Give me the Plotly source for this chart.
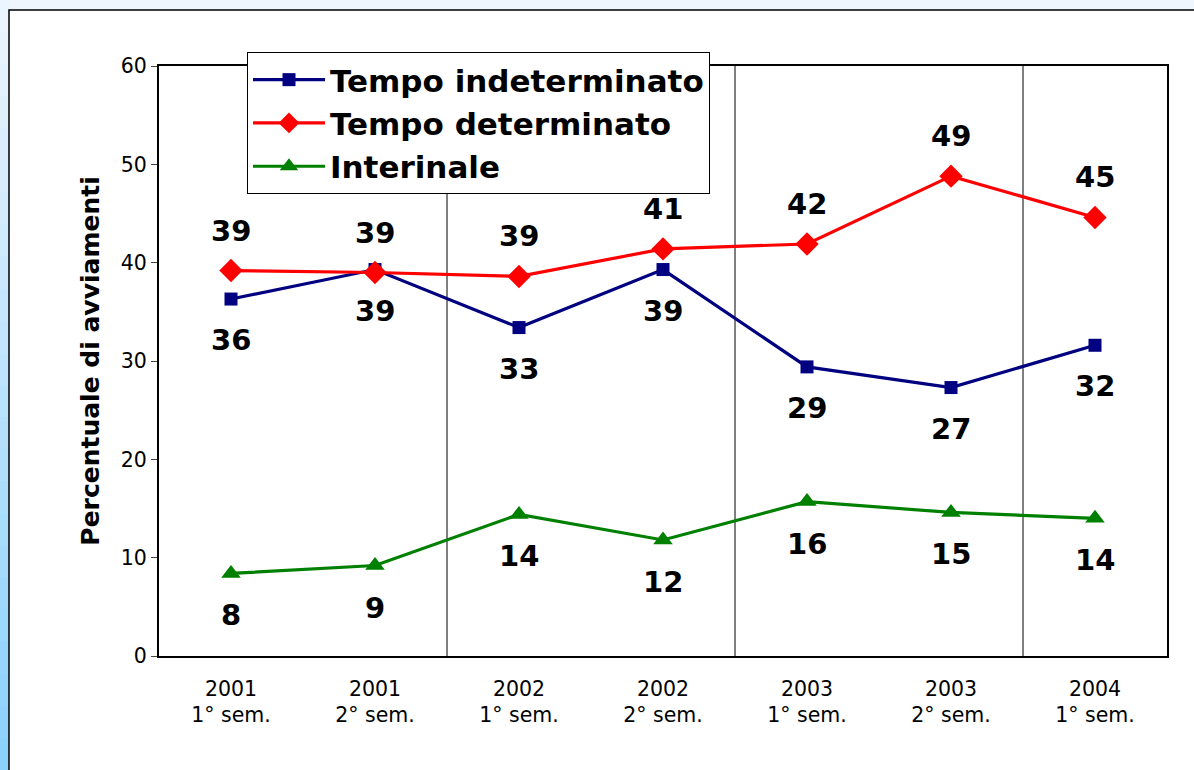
import plotly.graph_objects as go

categories = ["2001<br>1° sem.", "2001<br>2° sem.", "2002<br>1° sem.", "2002<br>2° sem.",
              "2003<br>1° sem.", "2003<br>2° sem.", "2004<br>1° sem."]
tempo_indeterminato = [36.3, 39.3, 33.4, 39.3, 29.4, 27.3, 31.6]
tempo_determinato = [39.2, 39.0, 38.6, 41.4, 41.9, 48.8, 44.6]
interinale = [8.4, 9.2, 14.4, 11.8, 15.7, 14.6, 14.0]
y_ticks = [0, 10, 20, 30, 40, 50, 60]
year_breaks = [1.5, 3.5, 5.5]

FONT = "DejaVu Sans"
W, H = 1194, 770
L, R, T, B = 159, 27, 66, 114
pw, ph = W - L - R, H - T - B
def px(x):
    return (x - L) / pw
def py(y):
    return 1 - (y - T) / ph

fig = go.Figure()

# page background: blue strip on left, white frame with black border
top_c = (238, 246, 254)
bot_c = (138, 208, 252)
n = 24
for i in range(n):
    t = (i + 0.5) / n
    col = tuple(int(top_c[k] + (bot_c[k] - top_c[k]) * t) for k in range(3))
    fig.add_shape(type="rect", xref="paper", yref="paper",
                  x0=px(0), x1=px(10), y0=py(H * i / n), y1=py(H * (i + 1) / n + 1),
                  fillcolor="rgb(%d,%d,%d)" % col, line=dict(width=0), layer="below")
fig.add_shape(type="rect", xref="paper", yref="paper",
              x0=px(9), x1=px(W + 20), y0=py(10), y1=py(H + 20),
              fillcolor="white", line=dict(color="black", width=1.5), layer="below")

# separators between years
for b in year_breaks:
    fig.add_shape(type="line", xref="x", yref="paper", x0=b, x1=b, y0=0, y1=1,
                  line=dict(color="black", width=1), layer="below")

series = [
    ("Tempo indeterminato", tempo_indeterminato, "#000080", "square", 13, -41),
    ("Tempo determinato", tempo_determinato, "#ff0000", "diamond", 18, 40),
    ("Interinale", interinale, "#008000", "triangle-up", 17, -42),
]
for name, vals, color, sym, msize, shift in series:
    fig.add_trace(go.Scatter(
        x=categories, y=vals, name=name, mode="lines+markers",
        line=dict(color=color, width=3.2),
        marker=dict(symbol=sym, size=msize, color=color),
    ))
    for c, v in zip(categories, vals):
        fig.add_annotation(x=c, y=v, text=f"{round(v):d}", showarrow=False,
                           yshift=shift, font=dict(family=FONT, size=29, color="black", weight="bold"))

fig.update_layout(
    width=W, height=H,
    margin=dict(l=L, r=R, t=T, b=B),
    paper_bgcolor="#f0f6fd", plot_bgcolor="rgba(0,0,0,0)",
    font=dict(family=FONT, color="black"),
    showlegend=True,
    legend=dict(
        x=px(247), y=py(52), xanchor="left", yanchor="top",
        bgcolor="white", bordercolor="black", borderwidth=1,
        font=dict(family=FONT, size=31, color="black", weight="bold"),
        itemwidth=72, tracegroupgap=0,
    ),
)
fig.update_xaxes(
    type="category", categoryorder="array", categoryarray=categories,
    showgrid=False, ticks="", ticklabelstandoff=13,
    tickfont=dict(family=FONT, size=20.5, color="black"),
    showline=True, linecolor="black", linewidth=2, mirror=True,
    range=[-0.5, 6.5],
)
fig.update_yaxes(
    range=[0, 60], tickvals=y_ticks, showgrid=False, zeroline=False,
    ticks="outside", ticklen=6, tickcolor="#444", tickwidth=1,
    tickfont=dict(family=FONT, size=20.5, color="black"),
    showline=True, linecolor="black", linewidth=2, mirror=True,
    title=dict(text="Percentuale di avviamenti", standoff=14,
               font=dict(family=FONT, size=25, color="black", weight="bold")),
)

fig.write_html("out.html", config={"displayModeBar": False},
               post_script="document.body.style.margin='0';")
